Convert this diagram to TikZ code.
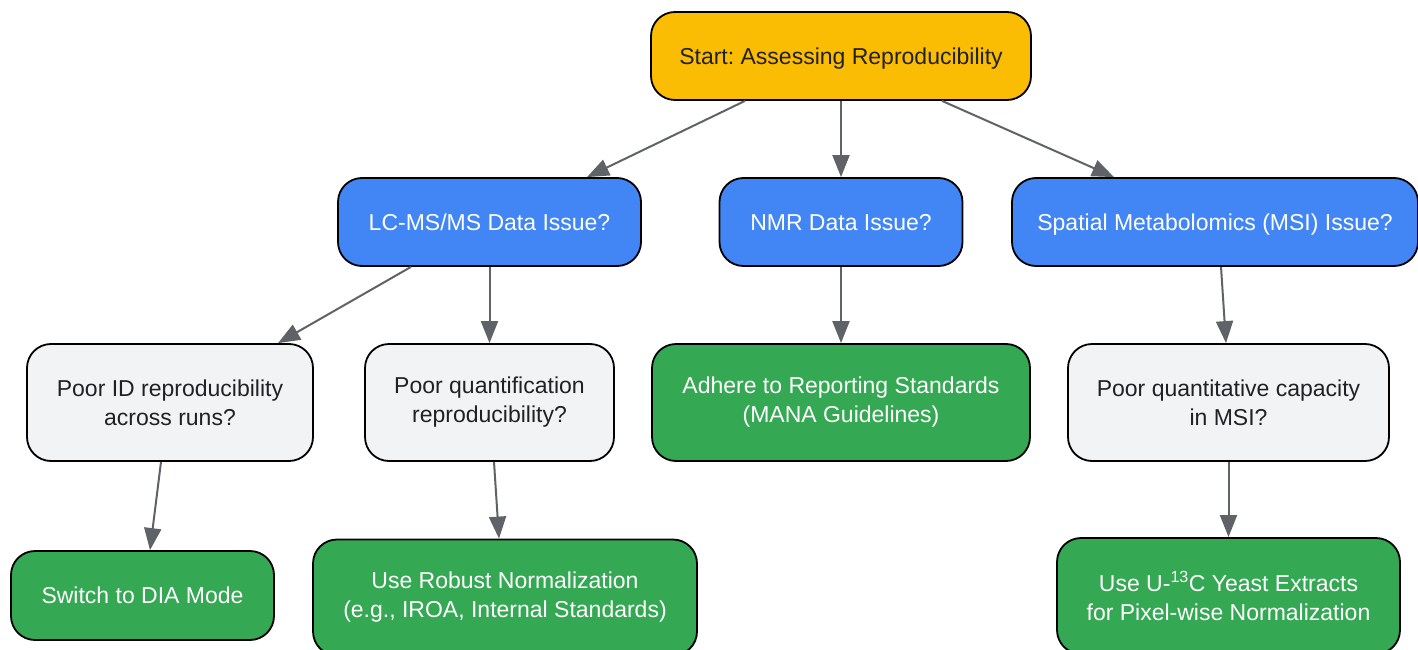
\documentclass[tikz,border=0pt]{standalone}
\usepackage{fontspec}
\setmainfont{Liberation Sans}
\usetikzlibrary{arrows.meta}
\definecolor{startc}{HTML}{FBBC04}
\definecolor{bluec}{HTML}{4285F4}
\definecolor{greenc}{HTML}{34A853}
\definecolor{grayc}{HTML}{F1F3F4}
\definecolor{edgec}{HTML}{5F6368}
\definecolor{darkt}{HTML}{202124}
\frenchspacing
\begin{document}
\begin{tikzpicture}[x=1pt,y=-1pt,
 box/.style={draw=black,line width=1.8pt,rounded corners=24pt,align=center,inner sep=0pt,font=\fontsize{23}{29}\selectfont},
 oneline/.style={text height=16.5pt,text depth=0pt},
 startbox/.style={box,oneline,fill=startc,text=darkt},
 issue/.style={box,oneline,fill=bluec,text=white},
 question/.style={box,fill=grayc,text=darkt},
 action/.style={box,fill=greenc,text=white},
 link/.style={draw=edgec,line width=2pt,-{Triangle[length=22pt,width=17pt]}}]
\useasboundingbox (0,0) rectangle (1418,650);
\node[startbox,minimum width=380pt,minimum height=88pt] (start) at (841,56) {Start: Assessing Reproducibility};
\node[issue,minimum width=303pt,minimum height=88pt] (lc) at (489.5,222) {LC-MS/MS Data Issue?};
\node[issue,minimum width=243pt,minimum height=88pt] (nmr) at (841,222) {NMR Data Issue?};
\node[issue,minimum width=406pt,minimum height=88pt] (spatial) at (1215,222) {Spatial Metabolomics (MSI) Issue?};
\node[question,minimum width=286pt,minimum height=117pt] (poorid) at (170,402.5) {Poor ID reproducibility\\across runs?};
\node[question,minimum width=249pt,minimum height=117pt] (pq) at (489.5,402.5) {Poor quantification\\reproducibility?};
\node[action,minimum width=378pt,minimum height=117pt] (adhere) at (841,402.5) {Adhere to Reporting Standards\\(MANA Guidelines)};
\node[question,minimum width=321pt,minimum height=117pt] (cap) at (1228.5,402.5) {Poor quantitative capacity\\in MSI?};
\node[action,oneline,minimum width=263pt,minimum height=89pt] (switch) at (142.5,595.5) {Switch to DIA Mode};
\node[action,minimum width=384pt,minimum height=116pt] (robust) at (505,597.5) {Use Robust Normalization\\(e.g., IROA, Internal Standards)};
\node[action,minimum width=343pt,minimum height=116pt] (u13c) at (1228.5,596) {Use U-\textsuperscript{13}C Yeast Extracts\\for Pixel-wise Normalization};
\draw[link] ([xshift=-96pt]start.south) -- ([xshift=97.5pt]lc.north);
\draw[link] (start.south) -- (nmr.north);
\draw[link] ([xshift=101pt]start.south) -- ([xshift=-101pt]spatial.north);
\draw[link] ([xshift=-78.5pt]lc.south) -- ([xshift=108pt]poorid.north);
\draw[link] (lc.south) -- (pq.north);
\draw[link] (nmr.south) -- (adhere.north);
\draw[link] ([xshift=6pt]spatial.south) -- ([xshift=-2.5pt]cap.north);
\draw[link] ([xshift=-9pt]poorid.south) -- ([xshift=7.5pt]switch.north);
\draw[link] ([xshift=4.5pt]pq.south) -- ([xshift=-6pt]robust.north);
\draw[link] (cap.south) -- (u13c.north);
\end{tikzpicture}
\end{document}
